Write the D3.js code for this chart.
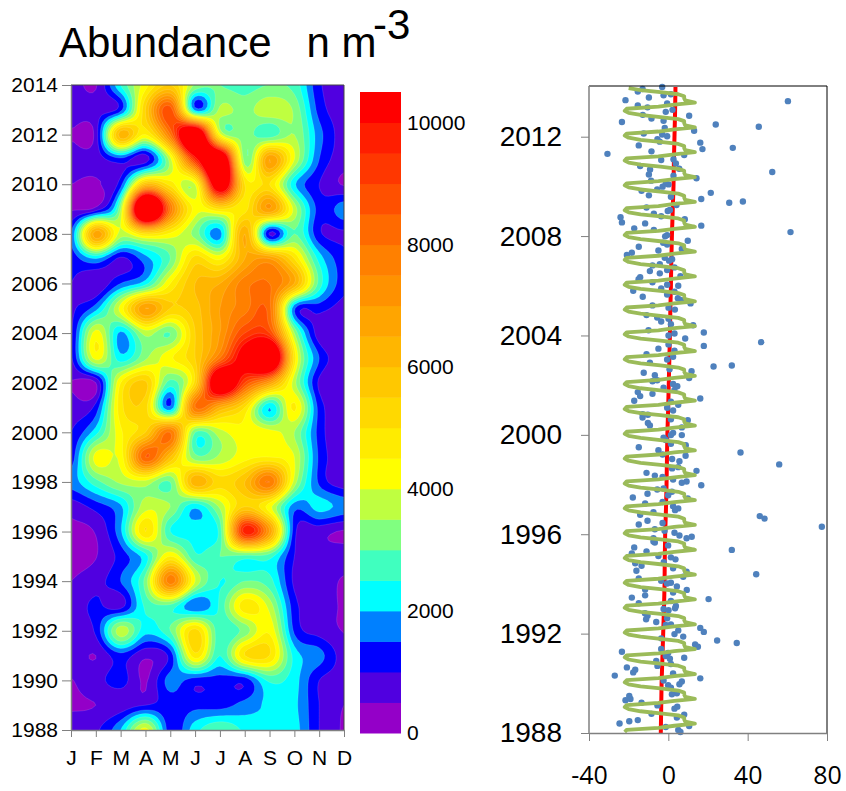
<!DOCTYPE html>
<html>
<head>
<meta charset="utf-8">
<script src="https://cdn.jsdelivr.net/npm/d3@7"></script>
<style>
body { margin: 0; background: #fff; }
text { font-family: "Liberation Sans", Arial, sans-serif; }
</style>
</head>
<body>
<div id="chart"></div>
<script>
const months = ["J", "F", "M", "A", "M", "J", "J", "A", "S", "O", "N", "D"];
const years = d3.range(1988, 2015);
const bandLevels = d3.range(0, 10500, 500);
const bandColors = ["#9400c8", "#5000e0", "#0000ff", "#0080ff", "#00ffff", "#40ffbf", "#80ff80", "#bfff40", "#ffff00", "#ffec00", "#ffd900",
    "#ffc800", "#ffb600", "#ffa500", "#ff9200", "#ff8000", "#ff6a00", "#ff5000", "#ff3700", "#ff1e00", "#ff0000"];

// one row per year (1988 first), one value per month
const abundance = [
    [700, 900, 2000, 4200, 1200, 2300, 3000, 2400, 2200, 2200, 1000, 450],
    [450, 500, 700, 1000, 1200, 1350, 1300, 1700, 2100, 2100, 1000, 500],
    [480, 800, 1200, 450, 1700, 1250, 1300, 1200, 2600, 2200, 1000, 750],
    [750, 500, 1300, 600, 1200, 4800, 2500, 5000, 5000, 2300, 1700, 750],
    [800, 1100, 3800, 2200, 3000, 5200, 2600, 3200, 4400, 1400, 800, 480],
    [700, 1100, 800, 2600, 2800, 1500, 2600, 4800, 3800, 1200, 750, 450],
    [500, 800, 1500, 3200, 7800, 4000, 2500, 3000, 2700, 900, 750, 450],
    [400, 480, 1200, 2300, 4500, 2600, 3000, 2800, 2700, 1000, 700, 700],
    [400, 550, 1900, 5000, 2500, 2400, 2700, 9800, 7000, 1200, 700, 450],
    [700, 1200, 1900, 3800, 3500, 2100, 3600, 5500, 4200, 1700, 2200, 1800],
    [1700, 2800, 3600, 3800, 3000, 6400, 5200, 6000, 8000, 3800, 1400, 700],
    [1200, 4200, 4200, 8500, 6000, 3200, 3600, 4300, 4500, 4000, 1400, 700],
    [1000, 2300, 4400, 5500, 8000, 3000, 3800, 4400, 4200, 3500, 1300, 500],
    [700, 1200, 4800, 5200, 1600, 8000, 6500, 5000, 2000, 4600, 1300, 750],
    [480, 500, 4500, 5600, 2800, 5200, 12500, 9000, 7000, 3700, 900, 750],
    [900, 4200, 2200, 3400, 4400, 5500, 8000, 11000, 13500, 4800, 1500, 750],
    [900, 4200, 1900, 3700, 3000, 5500, 7000, 9000, 9000, 3500, 700, 750],
    [900, 1800, 4200, 7000, 5500, 5800, 7000, 7800, 8200, 1600, 1200, 800],
    [1000, 550, 1500, 2300, 4500, 6000, 6500, 7800, 8000, 6500, 2800, 1200],
    [1200, 2000, 900, 1800, 3000, 5200, 4400, 6500, 7000, 5000, 2300, 1200],
    [1500, 6800, 3800, 5000, 4400, 3300, 1800, 6500, 900, 3000, 1100, 900],
    [450, 700, 3500, 14500, 8000, 4300, 5000, 4800, 7000, 3800, 1300, 1800],
    [500, 450, 1300, 6000, 4800, 4000, 12000, 5000, 5000, 2100, 1000, 450],
    [750, 750, 1300, 750, 3800, 9500, 13000, 3200, 7000, 4000, 1500, 750],
    [450, 700, 6300, 4500, 8000, 13000, 4200, 3300, 2700, 3500, 1700, 750],
    [800, 800, 1300, 5500, 8800, 1800, 3600, 3300, 3900, 3400, 1300, 750],
    [800, 450, 2500, 4300, 5500, 3400, 3000, 2800, 3000, 2800, 1100, 750]
];

// monthly anomaly scatter: time and value of each dot
const dotDates = [
    2014.0, 2013.92, 2013.82, 2013.58, 2013.67, 2013.71, 2013.47, 2013.43, 2013.34, 2013.26, 2013.18, 2013.08, 2013.0, 2012.88, 2012.84, 2012.73,
    2012.64, 2012.59, 2012.49, 2012.4, 2012.35, 2012.24, 2012.13, 2012.09, 2012.02, 2011.9, 2011.8, 2011.76, 2011.65, 2011.5, 2011.55, 2011.41,
    2011.31, 2011.26, 2011.06, 2011.09, 2010.92, 2010.82, 2010.68, 2010.71, 2010.48, 2010.43, 2010.58, 2010.33, 2010.23, 2010.08, 2010.11, 2009.99,
    2009.88, 2009.82, 2009.74, 2009.64, 2009.58, 2009.49, 2009.34, 2009.39, 2009.25, 2009.15, 2009.05, 2009.01, 2008.9, 2008.8, 2008.76, 2008.68,
    2008.55, 2008.51, 2008.42, 2008.31, 2008.25, 2008.16, 2008.04, 2007.99, 2007.81, 2007.73, 2007.66, 2007.57, 2007.48, 2007.42, 2007.33, 2007.24,
    2007.13, 2007.07, 2007.01, 2006.82, 2006.87, 2006.74, 2006.63, 2006.59, 2006.5, 2006.39, 2006.34, 2006.26, 2006.14, 2006.04, 2006.0, 2005.89,
    2005.8, 2005.76, 2005.65, 2005.56, 2005.5, 2005.42, 2005.29, 2005.21, 2005.12, 2005.04,
    2004.82, 2004.72, 2004.67, 2004.56, 2004.45, 2004.41, 2004.21, 2004.12, 2004.08, 2004.0, 2003.88, 2003.73, 2003.64, 2003.58, 2003.47, 2003.39,
    2003.25, 2003.14, 2003.03, 2002.9, 2002.75, 2002.79, 2002.64, 2002.56, 2002.5, 2002.4, 2002.29, 2002.16, 2002.2, 2002.05, 2001.9, 2001.96,
    2001.81, 2001.72, 2001.65, 2001.56, 2001.46, 2001.37, 2001.33, 2001.21, 2001.09, 2000.98, 2000.83, 2000.81, 2000.7, 2000.63, 2000.59, 2000.48,
    2000.38, 2000.3, 2000.08, 1999.99, 1999.99, 1999.89, 1999.79, 1999.64, 1999.58, 1999.5, 1999.38, 1999.21, 1999.29, 1999.16, 1999.03, 1998.94,
    1998.81, 1998.65, 1998.7, 1998.55, 1998.47, 1998.36, 1998.31, 1998.2, 1998.12, 1998.07, 1997.97, 1997.8, 1997.84, 1997.71, 1997.57, 1997.63,
    1997.48, 1997.44, 1997.24, 1997.3, 1997.13, 1997.04, 1996.97, 1996.89, 1996.78, 1996.73, 1996.63, 1996.45, 1996.54, 1996.39, 1996.3, 1996.2,
    1996.14, 1996.06, 1995.95, 1995.9, 1995.84, 1995.84,
    1995.67, 1995.71, 1995.55, 1995.47, 1995.37, 1995.31, 1995.23, 1995.12, 1995.07, 1994.99, 1994.87, 1994.83, 1994.73, 1994.63, 1994.53, 1994.49,
    1994.39, 1994.29, 1994.22, 1994.13, 1994.05, 1994.02, 1993.9, 1993.78, 1993.76, 1993.65, 1993.54, 1993.45, 1993.39, 1993.31, 1993.22, 1993.11,
    1993.02, 1992.99, 1992.94, 1992.82, 1992.72, 1992.58, 1992.62, 1992.47, 1992.37, 1992.35, 1992.23, 1992.13, 1992.07, 1991.98, 1991.88, 1991.81,
    1991.72, 1991.62, 1991.56, 1991.47, 1991.38, 1991.27, 1991.22, 1991.1, 1991.03, 1990.99, 1990.9, 1990.7, 1990.78, 1990.64, 1990.55, 1990.44,
    1990.4, 1990.31, 1990.2, 1990.11, 1990.07, 1989.96, 1989.92, 1989.82, 1989.6, 1989.56, 1989.49, 1989.32, 1989.37, 1989.22, 1989.11, 1989.06,
    1988.98, 1988.77, 1988.74, 1988.62, 1988.52, 1988.47, 1988.38, 1988.28, 1988.24, 1988.12, 1988.04
];
const dotValues = [
    -3.1, -13, -15.4, -9.8, -2.4, 1.3, -21.6, 60.3, -0.6, -15.4, -10.5, 2.1, -1.3, -12.9, 10.5, -8.5,
    -2.4, -23.4, 23.9, 45.6, -1.8, 13, -12.4, -3.1, -0.6, -5.5, -4.3, 16.1, -14.9, 17.2, 32.5, -8.5,
    -30.7, 8, -3.6, 2.6, 3.8, -14.2, -9.2, 5.5, -9.8, 2.6, 52.4, 14.2, -8.7, 0.1, -1.3, -2.9,
    -5.6, -13.5, 21.4, -9.8, 1.3, 16.6, 30.7, 37.6, 4.1, -11, 0.8, -0.3, -7.3, -3.6, -24.1, 8.3,
    -23.4, -11.7, 16.6, -17.2, -7.3, 61.6, -0.6, -1.6, 9.8, -2.6, -0.6, -14.9, 6.8, -5, -18.4, -20.9,
    -1.8, 1.9, 0.4, -8, -4.3, 3.1, -0.6, -9.3, -4.3, 6.1, -14.2, -15, -8, -0.6, 5, -3.6,
    -17.7, 3.1, -0.6, -12.9, 4.8, 6.8, 11.2, -8, 0.1, 3.3,
    -11, -5.6, 0.1, -3.6, 1.3, 12.5, -10, 17.9, 3.1, 0.1, 8.5, 46.8, 0.1, 17.9, -5, 3.1,
    -11, 2.4, -0.6, -9.3, 22.8, 32, 0.6, 11.7, -12.4, -6.8, 10.5, -8, -5.6, 2.4, -2.4, 4.5,
    3.1, -15.4, -8, -14.2, 16.1, -17.2, 1.3, 5, -0.6, 2.4, -13, -10.3, -13, 1.3, 9.8, -10.3,
    -9.3, 6.8, 2.4, 1.3, 6.8, -2.4, -1.3, 1.3, 8.8, -14.9, -5, -2.9, 36.4, 8.7, 1.9, 5.6,
    55.9, 1.9, 5, 14.2, -11, -6.8, -2.9, 2.4, 9.2, 6.8, 16.6, -5.6, -2.4, 1.8, -0.1, -10.5,
    -17.9, 9.8, -11.7, -2.9, 2.4, 5, 3.4, -7.5, -14.2, 46.1, 48.5, -2.9, -10.5, -14.9, 77.4, -6.8,
    -1.9, 3.1, 5.6, 11.8, 9.2, -7.5,
    -6.8, -7.5, -0.1, -17.2, 32, -11, -18.4, -5, 1.3, 3.6, -2.3, -16.7, -13.5, 2.4, -16.1, 9.2,
    44.3, 7.5, -14.9, -3.6, 1.3, -0.6, 4.3, -11.7, 9.3, 2.4, -11.7, -18.4, 20.3, 1.3, -14.9, 3.8,
    3.4, -2.4, 0.1, -11.8, -10.5, -11.2, -0.6, -6.1, 1.3, -1.3, 16.1, 5, 17.9, 3.1, 7.5, -3.6,
    24.6, 34.5, 13.5, 14.9, -3.6, -23.4, -0.1, -1.3, 8, 0.8, -6.1, -5.5, 1.3, -20.9, -16.7, -17.7,
    2.4, -27, 16.1, -2.4, 6.8, 5.6, -0.1, 1.3, 4.3, 1.8, -19.7, -21.6, -19.1, -13.5, -5.5, 4.5,
    3.1, -8.5, 8, 4.3, -15.4, -19.7, -24.6, 10.5, -1.3, 5, 6.1
];

// seasonal cycle, repeated each year (Jan..Dec)
const seasonalCycle = [-22, -21, -5, 3, 13.4, 8.5, 8, 8, 5, -4, -14, -20];
// long term trend at each year of `years`
const trendValues = [-3.8, -3.6, -3.4, -3.0, -2.6, -2.2, -1.9, -1.8, -1.6, -1.2, -0.9, -0.7, -0.5, -0.1, 0.2, 0.5, 0.8, 1.0, 1.3, 1.5, 1.8, 2.2, 2.6, 2.8, 3.1, 3.4, 3.6];

const width = 846, height = 791;
const svg = d3.select("#chart").append("svg")
    .attr("width", width)
    .attr("height", height)
    .style("display", "block");

const axisGrey = "#808080";

function styleAxis(g, fontSize, family) {
    g.select(".domain").attr("stroke", axisGrey).attr("stroke-width", 1.5);
    g.selectAll(".tick line").attr("stroke", axisGrey).attr("stroke-width", 1);
    g.selectAll("text").attr("fill", "#000").style("font-size", fontSize + "px").style("font-family", family);
}

// ---- title
svg.append("text").attr("x", 59).attr("y", 57).style("font-size", "42px").text("Abundance\u00a0\u00a0\u00a0n m");
svg.append("text").attr("x", 373).attr("y", 39).style("font-size", "42px").text("-3");

// ---- left panel: filled contours
const mapBox = {left: 71, right: 344, top: 85, bottom: 730};
const monthX = d3.scaleLinear().domain([0, 11]).range([mapBox.left, mapBox.right]);
const yearY = d3.scaleLinear().domain([1988, 2014]).range([mapBox.bottom, mapBox.top]);

// smooth the monthly grid for drawing, the nodes keep their values
function catmull(p0, p1, p2, p3, t) {
    return 0.5 * (2 * p1 + (p2 - p0) * t + (2 * p0 - 5 * p1 + 4 * p2 - p3) * t * t + (3 * p1 - p0 - 3 * p2 + p3) * t * t * t);
}
const step = 8;
const nCols = (months.length - 1) * step + 1;
const nRows = (years.length - 1) * step + 1;
function rowAt(r, gx) {
    const row = abundance[Math.max(0, Math.min(years.length - 1, r))];
    const c = Math.min(Math.floor(gx), months.length - 2), t = gx - c;
    const at = i => row[Math.max(0, Math.min(months.length - 1, i))];
    return catmull(at(c - 1), at(c), at(c + 1), at(c + 2), t);
}
const fine = new Float64Array(nCols * nRows);
for (let j = 0; j < nRows; j++) {
    const gy = j / step;
    const r = Math.min(Math.floor(gy), years.length - 2), t = gy - r;
    for (let i = 0; i < nCols; i++) {
        const gx = i / step;
        fine[j * nCols + i] = catmull(rowAt(r - 1, gx), rowAt(r, gx), rowAt(r + 1, gx), rowAt(r + 2, gx), t);
    }
}

const contours = d3.contours().size([nCols, nRows]).smooth(true).thresholds(bandLevels)(fine);
const contourPath = d3.geoPath(d3.geoTransform({
    point(x, y) {
        this.stream.point(monthX((x - 0.5) / step), yearY(1988 + (y - 0.5) / step));
    }
}));

svg.append("clipPath").attr("id", "mapClip").append("rect")
    .attr("x", mapBox.left).attr("y", mapBox.top)
    .attr("width", mapBox.right - mapBox.left).attr("height", mapBox.bottom - mapBox.top);

const mapG = svg.append("g").attr("clip-path", "url(#mapClip)");
mapG.append("rect")
    .attr("x", mapBox.left).attr("y", mapBox.top)
    .attr("width", mapBox.right - mapBox.left).attr("height", mapBox.bottom - mapBox.top)
    .attr("fill", bandColors[0]);
mapG.selectAll("path").data(contours).join("path")
    .attr("d", contourPath)
    .attr("fill", (d, i) => bandColors[i])
    .attr("stroke", "#fff")
    .attr("stroke-opacity", 0.25)
    .attr("stroke-width", 0.5);

svg.append("path")
    .attr("d", `M${mapBox.left},${mapBox.top}H${mapBox.right}V${mapBox.bottom}`)
    .attr("fill", "none").attr("stroke", "#444").attr("stroke-width", 1);

svg.append("g")
    .attr("transform", `translate(${mapBox.left},0)`)
    .call(d3.axisLeft(yearY).tickValues(d3.range(1988, 2015, 2)).tickFormat(d3.format("d")).tickSize(9).tickSizeOuter(0).tickPadding(4))
    .call(g => styleAxis(g, 21, "Liberation Sans"));

svg.append("g")
    .attr("transform", `translate(0,${mapBox.bottom})`)
    .call(d3.axisBottom(monthX).tickValues(d3.range(12)).tickFormat(i => months[i]).tickSize(7).tickSizeOuter(0).tickPadding(13))
    .call(g => styleAxis(g, 21, "Liberation Sans"));

// ---- colour bar
const barY = d3.scaleLinear().domain([0, 10500]).range([733, 92]);
svg.append("g").selectAll("rect").data(bandLevels).join("rect")
    .attr("x", 360)
    .attr("width", 41)
    .attr("y", d => barY(d + 500))
    .attr("height", d => barY(d) - barY(d + 500) + 0.5)
    .attr("fill", (d, i) => bandColors[i]);
svg.append("g")
    .attr("transform", "translate(401,0)")
    .call(d3.axisRight(barY).tickValues(d3.range(0, 10001, 2000)).tickFormat(d3.format("d")).tickSize(0).tickPadding(6))
    .call(g => g.select(".domain").remove())
    .call(g => styleAxis(g, 21, "Liberation Sans"));

// ---- right panel: anomalies
const plotBox = {left: 589, right: 827, top: 86, bottom: 733};
const anomX = d3.scaleLinear().domain([-40, 80]).range([plotBox.left, plotBox.right]);
const timeY = d3.scaleLinear().domain([1988, 2014]).range([plotBox.bottom, plotBox.top + 1]);

const dots = dotDates.map((d, i) => ({date: d, value: dotValues[i]}));
const seasonal = years.slice(0, -1).flatMap(y => seasonalCycle.map((v, m) => ({date: y + (m + 0.5) / 12, value: v})));
const trend = years.map((y, i) => ({date: y, value: trendValues[i]}));

const plotLine = d3.line().x(d => anomX(d.value)).y(d => timeY(d.date));

svg.append("path").datum(trend)
    .attr("d", plotLine)
    .attr("fill", "none").attr("stroke", "#ff0000").attr("stroke-width", 4);

svg.append("g").selectAll("circle").data(dots).join("circle")
    .attr("cx", d => anomX(d.value))
    .attr("cy", d => timeY(d.date))
    .attr("r", 3.2)
    .attr("fill", "#4f81bd");

svg.append("path").datum(seasonal)
    .attr("d", plotLine)
    .attr("fill", "none").attr("stroke", "#9bbb59").attr("stroke-width", 3.8).attr("stroke-linejoin", "round");

svg.append("path")
    .attr("d", `M${plotBox.left},${plotBox.top}H${plotBox.right}V${plotBox.bottom}`)
    .attr("fill", "none").attr("stroke", "#000").attr("stroke-width", 1);

svg.append("g")
    .attr("transform", `translate(${plotBox.left},0)`)
    .call(d3.axisLeft(timeY).tickValues(d3.range(1988, 2013, 4)).tickFormat(d3.format("d")).tickSize(8).tickSizeOuter(0).tickPadding(19))
    .call(g => g.select(".domain").attr("d", `M0,${plotBox.top}V${plotBox.bottom}`))
    .call(g => styleAxis(g, 28, "Liberation Sans"));

svg.append("g")
    .attr("transform", `translate(0,${plotBox.bottom})`)
    .call(d3.axisBottom(anomX).tickValues([-40, 0, 40, 80]).tickFormat(d => String(d)).tickSize(8).tickSizeOuter(0).tickPadding(25))
    .call(g => styleAxis(g, 25, "Open Sans"));
</script>
</body>
</html>
